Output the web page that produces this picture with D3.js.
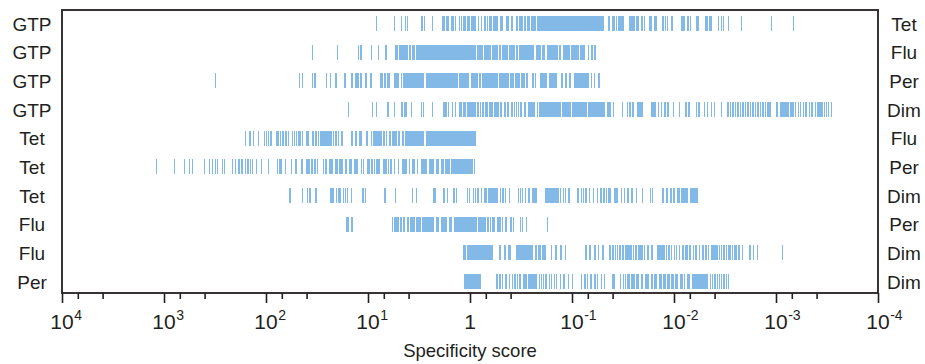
<!DOCTYPE html>
<html>
<head>
<meta charset="utf-8">
<script src="https://cdn.jsdelivr.net/npm/d3@7"></script>
<style>
  body { margin: 0; background: #fff; }
  svg { display: block; font-family: "Liberation Sans", Arial, Helvetica, sans-serif; }
</style>
</head>
<body>
<svg id="chart" width="925" height="364"></svg>
<script>
// row labels (left / right pair of each comparison)
const leftLabels = ["GTP", "GTP", "GTP", "GTP", "Tet", "Tet", "Tet", "Flu", "Flu", "Per"];
const rightLabels = ["Tet", "Flu", "Per", "Dim", "Flu", "Per", "Dim", "Per", "Dim", "Dim"];

// axis ticks
const majorTicks = [1e4, 1e3, 1e2, 1e1, 1, 1e-1, 1e-2, 1e-3, 1e-4];
const tickBase = ["10", "10", "10", "10", "1", "10", "10", "10", "10"];
const tickExp = ["4", "3", "2", "1", "", "-1", "-2", "-3", "-4"];
const minorTicks = [7e3, 4e3, 7e2, 4e2, 70, 40, 7, 4, 0.7, 0.4, 0.07, 0.04, 7e-3, 4e-3, 7e-4, 4e-4];

// log10(specificity score) of each hit; a pair is a dense run [from, to]
const gtpTet = [0.92, 0.74, 0.67, 0.63, 0.61, 0.47, 0.45, 0.37, [0.27, 0.25], [0.24, 0.22], 0.21, [0.19, 0.16], 0.14, 0.10, 0.08, [0.066, 0.039], [0.029, 0], [-0.01, -0.059], [-0.078, -0.091], [-0.105, -0.118], [-0.134, -0.157], [-0.167, -0.176], [-0.189, -0.219], [-0.228, -0.272], [-0.294, -0.321], [-0.35, -0.385], [-0.402, -0.425], [-0.448, -0.474], -0.483, -0.5, -0.517, [-0.532, -0.546], [-0.556, -0.588], [-0.601, -0.647], [-0.657, -1.314], [-1.353, -1.375], [-1.392, -1.419], -1.438, -1.458, -1.471, -1.49, -1.505, [-1.559, -1.618], [-1.627, -1.657], [-1.674, -1.699], -1.713, -1.765, -1.781, -1.807, -1.824, [-1.879, -1.902], -1.919, -1.938, -1.98, -2.078, -2.098, -2.137, -2.16, -2.225, -2.238, -2.307, -2.324, -2.346, -2.363, -2.434, -2.464, -2.483, -2.536, -2.66, -2.954, -3.17];
const gtpFlu = [1.546, 1.301, 1.095, 1.069, [0.971, 0.958], 0.899, [0.83, 0.817], [0.735, 0.703], [0.693, 0.611], [0.598, 0.578], [0.566, 0.539], [0.529, -0.056], [-0.069, -0.125], [-0.137, -0.206], [-0.219, -0.272], [-0.284, -0.304], [-0.317, -0.37], [-0.382, -0.441], [-0.451, -0.468], [-0.48, -0.63], [-0.644, -0.696], [-0.709, -0.735], [-0.752, -0.86], [-0.873, -0.892], [-0.909, -0.98], [-0.99, -1.069], [-1.078, -1.127], -1.162, -1.196, -1.225];
const gtpPer = [2.497, 1.674, 1.64, 1.546, 1.52, 1.409, 1.37, 1.314, [1.232, 1.219], 1.157, 1.118, [1.105, 1.091], [1.075, 1.062], 1.02, 0.971, 0.873, 0.856, [0.84, 0.826], [0.811, 0.787], [0.745, 0.696], [0.676, 0.667], [0.657, 0.448], [0.434, 0.121], [0.108, 0.007], [-0.01, -0.081], -0.098, [-0.118, -0.272], [-0.284, -0.382], -0.395, -0.412, -0.428, [-0.444, -0.493], -0.51, -0.529, [-0.549, -0.569], [-0.611, -0.621], -0.64, [-0.686, -0.758], [-0.775, -0.853], [-0.892, -0.915], [-0.928, -0.954], [-0.974, -0.987], [-1.02, -1.164], [-1.186, -1.199], -1.219, -1.265];
const gtpDim = [1.193, 0.958, 0.919, 0.804, 0.742, [0.676, 0.657], [0.647, 0.621], 0.575, 0.477, 0.458, 0.37, [0.262, 0.228], 0.209, [0.179, 0.167], 0.144, 0.105, 0.088, [0.072, 0.042], [0.029, -0.059], [-0.069, -0.085], -0.105, [-0.121, -0.14], -0.154, -0.167, [-0.186, -0.228], [-0.238, -0.284], [-0.294, -0.317], [-0.333, -0.353], [-0.366, -0.385], [-0.402, -0.419], [-0.431, -0.444], -0.458, -0.474, [-0.49, -0.51], [-0.526, -0.549], [-0.566, -0.637], -0.66, [-0.676, -0.889], [-0.902, -0.987], [-1.003, -1.144], [-1.16, -1.326], [-1.34, -1.36], [-1.366, -1.385], [-1.399, -1.409], -1.497, [-1.536, -1.549], [-1.562, -1.578], [-1.588, -1.608], [-1.64, -1.693], [-1.775, -1.824], -1.846, [-1.873, -1.882], [-1.902, -1.922], -1.941, [-1.99, -2.0], -2.052, -2.118, -2.147, -2.223, -2.245, -2.297, -2.33, -2.366, -2.395, [-2.458, -2.474], -2.529, -2.554, -2.578, -2.603, -2.627, -2.652, -2.676, -2.701, -2.725, -2.75, -2.775, -2.799, -2.824, -2.848, -2.873, -2.897, -2.922, -2.941, [-3.0, -3.02], [-3.039, -3.13], -3.147, -3.167, -3.191, -3.221, -3.24, -3.27, -3.294, -3.328, -3.353, -3.387, -3.412, -3.431, -3.451, -3.475, -3.497, -3.517, -3.542];
const tetFlu = [2.203, [2.164, 2.147], 2.125, 2.075, 2.017, 1.997, 1.977, 1.951, [1.902, 1.87], 1.86, [1.843, 1.824], [1.811, 1.797], [1.787, 1.772], 1.742, [1.725, 1.716], 1.703, [1.686, 1.657], 1.64, [1.608, 1.575], [1.549, 1.526], [1.515, 1.497], 1.483, [1.468, 1.353], [1.343, 1.33], [1.321, 1.301], 1.287, [1.262, 1.248], 1.157, [1.125, 1.108], [1.088, 1.062], [1.02, 1.003], [0.974, 0.961], [0.951, 0.86], [0.85, 0.83], [0.821, 0.811], [0.797, 0.777], [0.765, 0.713], [0.703, 0.683], [0.67, 0.647], [0.634, 0.627], [0.615, 0.448], [0.431, -0.056]];
const tetPer = [3.075, 2.899, 2.801, 2.752, 2.723, 2.605, 2.556, 2.526, 2.497, 2.474, 2.428, 2.409, 2.33, 2.297, [2.272, 2.255], 2.235, 2.203, [2.183, 2.17], 2.154, 2.134, 2.095, 2.046, 1.977, 1.889, [1.873, 1.846], 1.811, 1.752, [1.716, 1.699], 1.647, [1.608, 1.569], [1.559, 1.539], [1.529, 1.51], 1.493, 1.438, 1.412, [1.382, 1.34], [1.326, 1.297], [1.284, 1.248], [1.225, 1.203], [1.186, 1.154], [1.137, 1.095], [1.069, 1.059], 1.046, [1.01, 0.98], 0.961, [0.944, 0.928], 0.912, 0.892, [0.853, 0.811], 0.797, [0.781, 0.762], [0.748, 0.732], 0.703, [0.667, 0.621], [0.601, 0.585], [0.566, 0.539], 0.513, [0.48, 0.425], [0.399, 0.389], 0.373, 0.356, [0.336, 0.304], [0.284, 0.258], [0.245, 0.199], [0.186, -0.017], -0.026, -0.046];
const tetDim = [[1.775, 1.758], 1.642, 1.596, 1.569, 1.51, [1.37, 1.33], [1.317, 1.301], 1.284, 1.268, 1.238, 1.219, 1.199, 1.16, 1.049, 1.023, 0.833, 0.728, 0.566, 0.523, [0.36, 0.33], 0.255, 0.221, 0.157, 0.134, 0.023, 0.007, -0.032, -0.052, [-0.066, -0.091], -0.115, [-0.134, -0.164], [-0.179, -0.272], -0.297, [-0.314, -0.33], -0.346, [-0.382, -0.395], -0.474, -0.497, -0.517, [-0.539, -0.552], [-0.569, -0.591], [-0.608, -0.654], [-0.738, -0.791], -0.804, -0.824, -0.843, -0.863, -0.889, -0.915, -0.938, -0.971, [-1.052, -1.066], -1.091, -1.111, [-1.13, -1.144], -1.17, -1.209, [-1.242, -1.258], [-1.275, -1.291], [-1.307, -1.324], -1.34, -1.363, -1.379, -1.422, -1.441, -1.487, -1.517, [-1.542, -1.556], [-1.578, -1.601], [-1.627, -1.64], -1.693, [-1.762, -1.775], -1.791, [-1.885, -1.905], [-1.922, -1.944], [-1.961, -1.98], [-1.993, -2.01], [-2.026, -2.059], [-2.072, -2.14], [-2.157, -2.232]];
const fluPer = [1.206, 1.189, [1.167, 1.144], [0.768, 0.752], 0.742, 0.725, [0.716, 0.696], [0.683, 0.667], [0.654, 0.637], [0.621, 0.598], [0.585, 0.539], [0.529, 0.48], [0.468, 0.353], [0.336, 0.301], [0.287, 0.223], [0.209, 0.176], [0.157, -0.066], [-0.081, -0.157], [-0.17, -0.189], -0.203, -0.219, -0.235, [-0.262, -0.281], -0.294, -0.321, [-0.34, -0.36], -0.402, -0.428, -0.497, -0.517, -0.556, -0.758];
const fluDim = [[0.066, 0.042], [0.032, -0.228], [-0.287, -0.307], [-0.333, -0.35], [-0.37, -0.399], [-0.451, -0.621], [-0.637, -0.654], [-0.667, -0.693], [-0.709, -0.745], -0.801, -0.843, -0.892, -0.938, -1.137, -1.176, [-1.219, -1.232], -1.258, [-1.291, -1.311], [-1.363, -1.382], [-1.395, -1.409], -1.428, -1.448, [-1.464, -1.477], [-1.493, -1.51], -1.529, -1.549, [-1.562, -1.585], -1.601, [-1.615, -1.634], [-1.65, -1.683], -1.693, -1.713, [-1.732, -1.755], [-1.772, -1.797], [-1.836, -1.912], -1.928, [-1.944, -1.961], -1.977, [-1.997, -2.013], -2.026, [-2.046, -2.059], [-2.078, -2.098], -2.118, -2.13, [-2.15, -2.17], -2.189, [-2.209, -2.228], -2.248, [-2.272, -2.291], [-2.304, -2.326], -2.336, [-2.36, -2.428], -2.444, -2.468, [-2.483, -2.5], -2.517, -2.536, -2.549, [-2.566, -2.581], -2.598, -2.615, [-2.63, -2.647], [-2.664, -2.679], -2.745, [-2.777, -2.784], [-2.811, -2.826], -3.062];
const perDim = [[0.059, -0.105], [-0.255, -0.272], -0.294, -0.321, [-0.343, -0.36], -0.385, -0.415, -0.441, -0.464, -0.49, [-0.517, -0.556], [-0.572, -0.66], -0.679, -0.699, -0.719, [-0.738, -0.758], -0.777, -0.801, -0.826, -0.85, -0.889, -0.922, -0.964, -1.007, -1.095, -1.127, -1.15, [-1.176, -1.196], -1.225, -1.252, -1.291, -1.321, [-1.389, -1.422], [-1.471, -1.483], -1.503, [-1.517, -1.529], [-1.542, -1.569], [-1.581, -1.618], [-1.627, -1.66], [-1.674, -1.699], [-1.713, -1.758], [-1.772, -1.797], [-1.807, -1.836], [-1.856, -1.879], [-1.895, -1.922], [-1.934, -1.961], [-1.974, -2.0], [-2.013, -2.042], [-2.059, -2.085], -2.105, [-2.13, -2.157], [-2.174, -2.336], -2.36, -2.379, -2.402, -2.425, -2.444, -2.464, -2.49, -2.513, -2.536];

const rows = [gtpTet, gtpFlu, gtpPer, gtpDim, tetFlu, tetPer, tetDim, fluPer, fluDim, perDim];

const margin = { top: 10, right: 47, bottom: 71, left: 62 };
const width = 925 - margin.left - margin.right;
const height = 364 - margin.top - margin.bottom;
const barColor = "#82b9e6";
const ink = "#231f20";

const svg = d3.select("#chart");
const g = svg.append("g").attr("transform", `translate(${margin.left},${margin.top})`);

const x = d3.scaleLog().domain([1e4, 1e-4]).range([0, width]);
const y = d3.scaleBand()
  .domain(d3.range(rows.length))
  .range([-0.8, height + 3])
  .paddingInner(0.477)
  .paddingOuter(0.2385);

// hits
rows.forEach((row, i) => {
  g.append("g")
    .selectAll("rect")
    .data(row)
    .enter()
    .append("rect")
    .attr("fill", barColor)
    .attr("shape-rendering", "crispEdges")
    .attr("y", y(i))
    .attr("height", y.bandwidth())
    .attr("x", d => Array.isArray(d) ? x(10 ** d[0]) : x(10 ** d) - 0.6)
    .attr("width", d => Array.isArray(d) ? Math.max(1.2, x(10 ** d[1]) - x(10 ** d[0])) : 1.2);
});

// frame
g.append("rect")
  .attr("width", width)
  .attr("height", height)
  .attr("fill", "none")
  .attr("stroke", ink)
  .attr("stroke-width", 1.8);

// x axis: major + minor ticks
const major = g.append("g")
  .attr("transform", `translate(0,${height})`)
  .call(d3.axisBottom(x).tickValues(majorTicks).tickSize(10).tickFormat(""));
const minor = g.append("g")
  .attr("transform", `translate(0,${height})`)
  .call(d3.axisBottom(x).tickValues(minorTicks).tickSize(6).tickFormat(""));
[major, minor].forEach(a => {
  a.select(".domain").remove();
  a.selectAll(".tick line").attr("stroke", ink).attr("stroke-width", 1.6);
});

// tick labels with superscript exponents
majorTicks.forEach((v, i) => {
  const base = g.append("text")
    .attr("x", x(v))
    .attr("y", height + 36)
    .attr("text-anchor", "middle")
    .attr("fill", ink)
    .style("font-size", "21px")
    .text(tickBase[i]);
  if (tickExp[i]) {
    const w = base.node().getComputedTextLength();
    g.append("text")
      .attr("x", x(v) + w / 2 + 0.5)
      .attr("y", height + 27)
      .attr("fill", ink)
      .style("font-size", "14px")
      .text(tickExp[i]);
  }
});

g.append("text")
  .attr("x", x(1))
  .attr("y", height + 64)
  .attr("text-anchor", "middle")
  .attr("fill", ink)
  .style("font-size", "18.5px")
  .text("Specificity score");

// row labels on both sides
const labelY = i => y(i) + y.bandwidth() / 2 + 7;
g.append("g").selectAll("text")
  .data(leftLabels)
  .enter()
  .append("text")
  .attr("x", -30)
  .attr("y", (d, i) => labelY(i))
  .attr("text-anchor", "middle")
  .attr("fill", ink)
  .style("font-size", "19px")
  .text(d => d);
g.append("g").selectAll("text")
  .data(rightLabels)
  .enter()
  .append("text")
  .attr("x", width + 26)
  .attr("y", (d, i) => labelY(i))
  .attr("text-anchor", "middle")
  .attr("fill", ink)
  .style("font-size", "19px")
  .text(d => d);
</script>
</body>
</html>
